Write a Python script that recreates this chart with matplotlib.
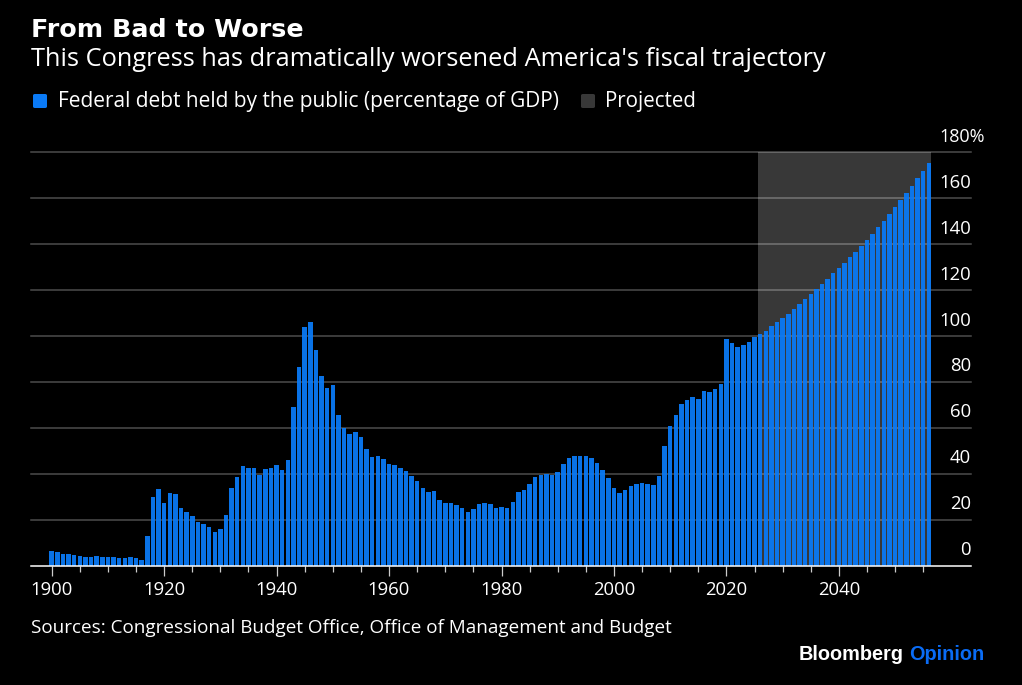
import matplotlib
matplotlib.use("Agg")
import matplotlib.pyplot as plt
from matplotlib.patches import FancyBboxPatch

# values, percent of GDP
years = list(range(1900, 2057))
debt_1900s = [6.5, 5.7, 5.2, 4.9, 4.6, 4.2, 3.9, 3.9, 4.2, 3.8,
              3.6, 3.5, 3.3, 3.1, 3.5, 3.2, 2.6, 13.0, 30.0, 33.3]
debt_1920s = [27.2, 31.5, 31.0, 25.1, 23.4, 21.4, 18.9, 17.9, 16.9, 14.7,
              16.1, 21.8, 33.9, 38.5, 43.5, 42.3, 42.4, 39.5, 42.1, 42.3]
debt_1940s = [43.6, 41.4, 45.8, 69.2, 86.3, 103.8, 106.0, 93.9, 82.4, 77.3,
              78.5, 65.4, 60.0, 57.1, 58.0, 55.8, 50.6, 47.2, 47.8, 46.5]
debt_1960s = [44.2, 43.6, 42.3, 41.0, 38.8, 36.6, 33.7, 31.8, 32.3, 28.3,
              27.0, 27.0, 26.5, 25.1, 23.1, 24.4, 26.6, 27.0, 26.7, 24.9]
debt_1980s = [25.4, 25.1, 27.8, 32.1, 33.0, 35.3, 38.4, 39.5, 39.8, 39.4,
              40.8, 44.0, 46.7, 47.8, 47.7, 47.7, 46.9, 44.5, 41.6, 38.2]
debt_2000s = [33.6, 31.4, 32.7, 34.6, 35.6, 35.8, 35.3, 35.2, 39.1, 52.2,
              60.6, 65.4, 70.2, 71.9, 73.3, 72.3, 75.9, 75.7, 77.0, 79.0]
debt_2020s = [98.5, 96.8, 94.9, 95.8, 97.4, 99.4, 100.6, 102.0, 104.1, 105.8,
              107.6, 109.6, 111.5, 114.0, 116.1, 118.0, 120.2, 122.5, 124.7, 127.2]
debt_2040s = [129.5, 131.7, 134.3, 136.6, 139.2, 141.9, 144.5, 147.4, 150.1, 153.0,
              156.1, 159.2, 162.2, 165.4, 168.6, 171.8, 175.1]
debt = debt_1900s + debt_1920s + debt_1940s + debt_1960s + debt_1980s + debt_2000s + debt_2020s + debt_2040s

y_ticks = [0, 20, 40, 60, 80, 100, 120, 140, 160, 180]
y_labels = ["0", "20", "40", "60", "80", "100", "120", "140", "160", "180%"]
x_labelled = [1900, 1920, 1940, 1960, 1980, 2000, 2020, 2040]
x_minor = list(range(1900, 2056, 5))
projected_start = 2025.6
projected_end = 2056.4

BLUE = "#0a7af6"
FONT = "Open Sans"
W, H = 1022, 685

plt.rcParams["font.family"] = [FONT, "DejaVu Sans"]

fig = plt.figure(figsize=(W / 100, H / 100), dpi=100, facecolor="black")


def fx(x):
    return x / W


def fy(y):
    return 1 - y / H


ax = fig.add_axes([fx(31), fy(565.5), fx(971) - fx(31), fy(152) - fy(565.5)], facecolor="black")
ax.set_xlim(1896.32, 2063.5)
ax.set_ylim(0, 180)

ax.axvspan(projected_start, projected_end, color="#383838", lw=0, zorder=1)

# gridlines sit under slightly see-through bars
for y in y_ticks[1:]:
    ax.axhline(y, color="white", alpha=0.3, lw=1.1, zorder=1.5, clip_on=False)

ax.bar(years, debt, width=0.8, color=BLUE, alpha=0.94, lw=0, zorder=2)

for s in ["top", "left", "right"]:
    ax.spines[s].set_visible(False)
ax.spines["bottom"].set_color("white")
ax.spines["bottom"].set_linewidth(1.1)
ax.spines["bottom"].set_zorder(4)

ax.set_yticks([])
ax.set_xticks(x_labelled)
ax.set_xticklabels([str(x) for x in x_labelled], color="white", fontsize=13.3)
ax.set_xticks(x_minor, minor=True)
ax.tick_params(axis="x", which="major", length=7.5, width=0.9, color="#cccccc", pad=3.5)
ax.tick_params(axis="x", which="minor", length=4, width=0.9, color="#cccccc")

for y, lab in zip(y_ticks, y_labels):
    if lab.endswith("%"):
        ax.annotate(lab, xy=(0, y), xycoords=("axes fraction", "data"), xytext=(908 * 0.72, 4.5),
                    textcoords="offset points", ha="left", va="bottom", color="white", fontsize=13)
    else:
        ax.annotate(lab, xy=(1, y), xycoords=("axes fraction", "data"), xytext=(0, 4.5),
                    textcoords="offset points", ha="right", va="bottom", color="white", fontsize=13.3)

fig.text(fx(31), fy(37), "From Bad to Worse", color="white", fontsize=18.3, fontweight="bold",
         family="DejaVu Sans", va="baseline")
fig.text(fx(31), fy(66.5), "This Congress has dramatically worsened America's fiscal trajectory",
         color="white", fontsize=18.3, va="baseline")

# legend
for x0, c in [(33, BLUE), (581, "#383838")]:
    fig.add_artist(FancyBboxPatch((fx(x0), fy(108)), fx(14), fy(94) - fy(108),
                                  boxstyle="round,pad=0,rounding_size=0.002",
                                  transform=fig.transFigure, fc=c, ec="none"))
fig.text(fx(58), fy(107.5), "Federal debt held by the public (percentage of GDP)", color="white",
         fontsize=15, va="baseline")
fig.text(fx(605), fy(107.5), "Projected", color="white", fontsize=14.8, va="baseline")

fig.text(fx(31), fy(633), "Sources: Congressional Budget Office, Office of Management and Budget",
         color="white", fontsize=13.6, va="baseline")

fig.text(fx(799), fy(660), "Bloomberg", color="white", fontsize=14.3, fontweight="bold",
         family="Liberation Sans", va="baseline")
fig.text(fx(909), fy(660), "Opinion", color="#0a6cf5", fontsize=14.3, fontweight="bold",
         family="Liberation Sans", va="baseline")

fig.savefig("out.png", dpi=100, facecolor="black")
